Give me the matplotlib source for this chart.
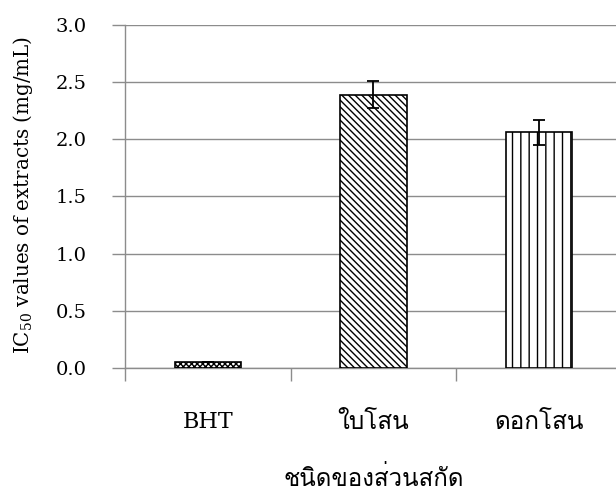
import matplotlib
matplotlib.use("Agg")
import matplotlib.pyplot as plt
import numpy as np

# IC50 of extracts
categories = ["BHT", "ใบโสน", "ดอกโสน"]
ic50 = [0.05, 2.39, 2.06]
ic50_err = [0.0, 0.12, 0.11]
hatches = ["xxxxxx", "\\\\\\\\\\", "||"]
y_ticks = [0.0, 0.5, 1.0, 1.5, 2.0, 2.5, 3.0]

SERIF = ["DejaVu Serif"]
THAI = ["Loma", "Noto Sans Thai Looped", "DejaVu Sans"]
GRAY = "#8c8c8c"

plt.rcParams["mathtext.default"] = "regular"
plt.rcParams["hatch.linewidth"] = 1.0

fig = plt.figure(figsize=(6.16, 4.91), dpi=100)
ax = fig.add_axes([0.2029, 0.2505, 0.8068, 0.6986])

x = np.arange(len(categories)) + 0.5
ax.bar(x, ic50, width=0.4, color="white", edgecolor="black",
       linewidth=1.2, hatch=hatches, zorder=3)
ax.errorbar(x, ic50, yerr=ic50_err, fmt="none", ecolor="black",
            elinewidth=1.3, capsize=4.5, capthick=1.3, zorder=4)

ax.set_xlim(0, len(categories))
ax.set_ylim(0, 3.0)
ax.set_yticks(y_ticks)
ax.set_yticklabels([f"{v:.1f}" for v in y_ticks], family=SERIF, fontsize=14)
ax.yaxis.grid(True, color=GRAY, linewidth=1.0, zorder=0)
ax.tick_params(axis="y", length=9.4, width=1.0, color=GRAY, pad=18)

# category boundaries as major ticks, names as minor tick labels
ax.set_xticks(np.arange(len(categories) + 1))
ax.set_xticklabels([])
ax.tick_params(axis="x", which="major", length=9.4, width=1.0, color=GRAY)
ax.set_xticks(x, minor=True)
ax.set_xticklabels(categories, minor=True)
ax.tick_params(axis="x", which="minor", length=0, pad=31)
for lab in ax.get_xticklabels(minor=True):
    if lab.get_text() == "BHT":
        lab.set_family(SERIF)
        lab.set_fontsize(16)
    else:
        lab.set_family(THAI)
        lab.set_fontsize(17.5)

for side in ("top", "right"):
    ax.spines[side].set_visible(False)
for side in ("left", "bottom"):
    ax.spines[side].set_color(GRAY)
    ax.spines[side].set_linewidth(1.0)

ax.set_ylabel("IC$_{50}$ values of extracts (mg/mL)", family=SERIF, fontsize=14.3)
ax.yaxis.set_label_coords(-0.181, 0.505)
ax.set_xlabel("ชนิดของส่วนสกัด", family=THAI, fontsize=17.3)
ax.xaxis.set_label_coords(0.5, -0.285)

fig.savefig("out.png", dpi=100)
